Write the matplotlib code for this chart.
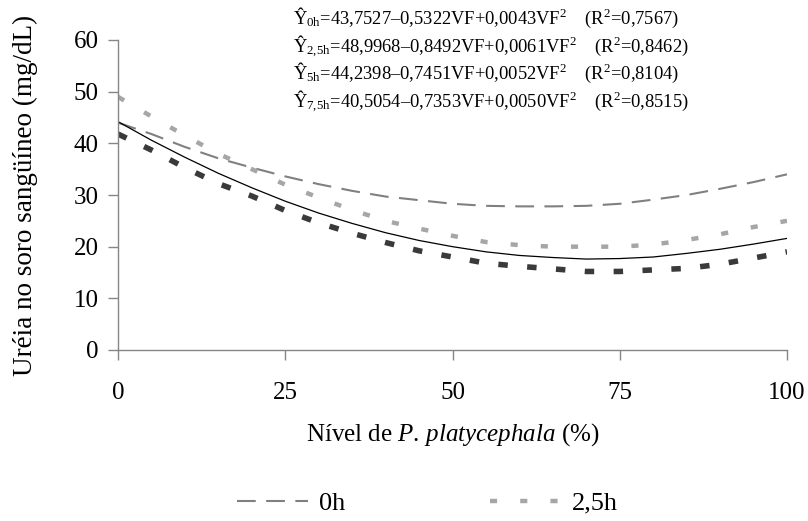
import matplotlib
matplotlib.use('Agg')
import matplotlib.pyplot as plt
import numpy as np

plt.rcParams['font.family'] = ['Liberation Serif', 'DejaVu Serif']
plt.rcParams['mathtext.fontset'] = 'custom'
plt.rcParams['mathtext.rm'] = 'Liberation Serif'
plt.rcParams['mathtext.it'] = 'Liberation Serif:italic'

# nivel de P. platycephala (%)
x = [0, 5, 10, 15, 20, 25, 30, 35, 40, 45, 50, 55, 60, 65, 70, 75, 80, 85, 90, 95, 100]

# ureia (mg/dL)
y0h = [44.0, 41.8, 39.3, 37.1, 35.3, 33.6, 32.1, 30.8, 29.7, 29.0, 28.3,
       27.9, 27.8, 27.8, 27.9, 28.3, 29.1, 30.0, 31.2, 32.5, 34.0]
y25h = [49.0, 45.2, 41.5, 38.0, 35.0, 32.0, 29.5, 27.1, 25.0, 23.5, 22.1,
        20.9, 20.3, 20.0, 20.0, 20.0, 20.4, 21.3, 22.4, 23.8, 25.0]
y5h = [44.2, 40.6, 37.3, 34.2, 31.4, 28.8, 26.5, 24.5, 22.7, 21.2, 20.0,
       19.0, 18.3, 17.9, 17.6, 17.7, 18.0, 18.7, 19.5, 20.5, 21.6]
y75h = [41.8, 38.7, 35.3, 32.2, 29.8, 27.0, 24.6, 22.6, 20.8, 19.2, 18.0,
        16.8, 16.2, 15.7, 15.2, 15.2, 15.5, 15.8, 16.6, 17.8, 19.0]

# so as duas primeiras entradas da legenda aparecem na figura
labels = ['0h', '2,5h']

equations = [
    'Ŷ$_{\\mathrm{0h}}$=43,7527–0,5322VF+0,0043VF$^{2}$    (R$^{2}$=0,7567)',
    'Ŷ$_{\\mathrm{2{,}5h}}$=48,9968–0,8492VF+0,0061VF$^{2}$    (R$^{2}$=0,8462)',
    'Ŷ$_{\\mathrm{5h}}$=44,2398–0,7451VF+0,0052VF$^{2}$    (R$^{2}$=0,8104)',
    'Ŷ$_{\\mathrm{7{,}5h}}$=40,5054–0,7353VF+0,0050VF$^{2}$    (R$^{2}$=0,8515)',
]

fig = plt.figure(figsize=(8.08, 5.21), dpi=100)
ax = fig.add_axes([118/808, 1-350/521, 669/808, 310/521])

l0, = ax.plot(x, y0h, color='#808080', lw=1.5, dashes=(9, 5), dash_capstyle='butt')
l1, = ax.plot(x, y25h, color='#a6a6a6', lw=3.2, dashes=(1.6, 5.2), dash_capstyle='butt')
l2, = ax.plot(x, y5h, color='black', lw=0.9)
l3, = ax.plot(x, y75h, color='#3a3a3a', lw=4.0, dashes=(1.7, 3.5), dash_capstyle='butt')

ax.set_xlim(0, 100)
ax.set_ylim(0, 60)
ax.set_xticks([0, 25, 50, 75, 100])
ax.set_yticks(np.arange(0, 61, 10))
for s in ['top', 'right']:
    ax.spines[s].set_visible(False)
for s in ['left', 'bottom']:
    ax.spines[s].set_color('#868686')
    ax.spines[s].set_linewidth(1)
ax.tick_params(axis='both', direction='out', length=7, width=1, color='#868686', labelsize=18)
ax.tick_params(axis='x', pad=16)
ax.tick_params(axis='y', pad=7)

ax.set_ylabel('Uréia no soro sangüíneo (mg/dL)', fontsize=19.5)
ax.yaxis.set_label_coords(-0.12, 0.5)
ax.set_xlabel('Nível de $\\mathit{P.\\,platycephala}$ (%)', fontsize=18)
ax.xaxis.set_label_coords(0.5, -0.228)

for i, eq in enumerate(equations):
    fig.text(293/808, 1-(18+27.6*i)/521, eq, fontsize=13.3, va='center', ha='left')

fig.legend([l0, l1], labels, loc='center left', ncol=2, frameon=False,
           bbox_to_anchor=(237/808, 1-503/521), fontsize=19, handlelength=2.7,
           handletextpad=0.4, columnspacing=5.5, borderpad=0, borderaxespad=0)

fig.savefig('out.png', dpi=100)
